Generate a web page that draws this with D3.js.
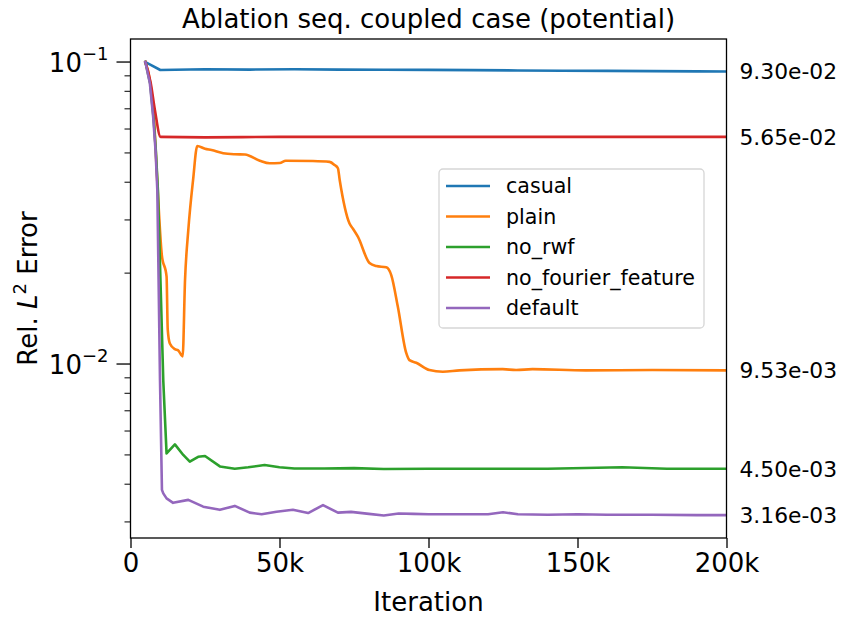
<!DOCTYPE html>
<html>
<head>
<meta charset="utf-8">
<script src="https://cdn.jsdelivr.net/npm/d3@7"></script>
<style>
  html, body { margin: 0; padding: 0; background: #fff; }
  svg text { font-family: "DejaVu Sans", sans-serif; fill: #000; }
</style>
</head>
<body>
<svg id="chart" width="842" height="618"></svg>
<script>
// ---------- data ----------
const seriesNames = ["casual", "plain", "no_rwf", "no_fourier_feature", "default"];
const seriesColors = ["#1f77b4", "#ff7f0e", "#2ca02c", "#d62728", "#9467bd"];

const iterCasual = [5000, 10000, 25000, 40000, 55000, 70000, 85000, 100000, 115000, 130000, 145000, 160000, 175000, 190000, 200000];
const errCasual  = [0.1, 0.0941, 0.0947, 0.0944, 0.0947, 0.0944, 0.0943, 0.0942, 0.0940, 0.0938, 0.0936, 0.0935, 0.0933, 0.0931, 0.0930];

const iterPlain = [5000, 6600, 7800, 9000, 10500, 12100, 12500, 13200, 14900, 16000, 17500, 18300, 19400, 21000, 22400, 25000, 27200, 31100, 35000, 38400, 43400, 46700, 50100, 52100, 61200, 66800, 68500, 69600, 70200, 73500, 74600, 76300, 80200, 82500, 85800, 87500, 89700, 92500, 93600, 95900, 100300, 104800, 110400, 124900, 129400, 134900, 152800, 175100, 200000];
const errPlain  = [0.1, 0.086, 0.067, 0.040, 0.023, 0.0195, 0.0130, 0.0117, 0.0112, 0.0111, 0.0106, 0.0190, 0.0278, 0.0407, 0.0527, 0.0516, 0.0511, 0.0499, 0.0495, 0.0494, 0.0471, 0.0462, 0.0463, 0.0471, 0.0470, 0.0467, 0.0456, 0.0445, 0.0407, 0.0292, 0.0281, 0.0264, 0.0216, 0.0211, 0.0209, 0.0197, 0.0155, 0.0109, 0.0103, 0.0101, 0.00955, 0.00943, 0.00953, 0.00962, 0.00955, 0.00962, 0.00953, 0.00955, 0.00953];

const iterNoRwf = [5000, 6600, 7700, 8500, 9200, 11000, 12100, 14900, 17700, 19900, 22700, 25000, 30000, 35000, 39500, 45000, 50000, 55000, 65000, 75000, 85000, 100000, 120000, 140000, 165000, 180000, 200000];
const errNoRwf  = [0.1, 0.085, 0.066, 0.051, 0.0377, 0.0088, 0.00506, 0.00542, 0.0050, 0.00475, 0.00493, 0.00496, 0.00458, 0.00450, 0.00455, 0.00463, 0.00455, 0.00451, 0.00451, 0.00452, 0.00449, 0.00450, 0.00450, 0.00450, 0.00455, 0.00450, 0.00450];

const iterNoFourier = [5000, 6800, 8200, 10100, 25000, 50000, 100000, 150000, 200000];
const errNoFourier  = [0.1, 0.085, 0.0693, 0.0565, 0.0563, 0.0565, 0.0565, 0.0565, 0.0565];

const iterDefault = [5000, 6500, 7600, 8400, 9000, 9900, 10550, 11000, 12100, 14300, 19400, 24400, 30000, 35000, 40000, 44000, 49000, 54500, 59600, 64600, 69600, 74000, 80000, 85000, 90000, 95000, 100000, 110000, 120000, 125000, 130000, 140000, 150000, 160000, 175000, 190000, 200000];
const errDefault  = [0.1, 0.085, 0.0659, 0.0511, 0.0377, 0.00885, 0.00383, 0.00373, 0.00359, 0.00347, 0.00355, 0.00337, 0.00329, 0.00339, 0.00322, 0.00318, 0.00324, 0.00329, 0.00321, 0.00341, 0.00322, 0.00324, 0.00319, 0.00315, 0.00320, 0.00319, 0.00318, 0.00318, 0.00318, 0.00323, 0.00318, 0.00317, 0.00318, 0.00317, 0.00317, 0.00316, 0.00316];

const finalLabels = ["9.30e-02", "9.53e-03", "4.50e-03", "5.65e-02", "3.16e-03"];
const finalValues = [0.0930, 0.00953, 0.00450, 0.0565, 0.00316];

const xTickValues = [0, 50000, 100000, 150000, 200000];
const xTickLabels = ["0", "50k", "100k", "150k", "200k"];
const yMajorTicks = [0.1, 0.01];
const yMajorExp = ["−1", "−2"];
const yMinorTicks = [0.003, 0.004, 0.005, 0.006, 0.007, 0.008, 0.009, 0.02, 0.03, 0.04, 0.05, 0.06, 0.07, 0.08, 0.09];

const titleText = "Ablation seq. coupled case (potential)";
const xLabelText = "Iteration";

// ---------- layout ----------
const L = 130.5, R = 726.5, T = 39, B = 538;
const svg = d3.select("#chart");

const x = d3.scaleLinear().domain([0, 200000]).range([L, R]);
const y = d3.scaleLog().domain([0.002654, 0.1192]).range([B, T]);

const allIters = [iterCasual, iterPlain, iterNoRwf, iterNoFourier, iterDefault];
const allErrs  = [errCasual, errPlain, errNoRwf, errNoFourier, errDefault];
const smoothCurve = [false, true, false, true, false];

svg.append("clipPath").attr("id", "clip").append("rect")
  .attr("x", L).attr("y", T).attr("width", R - L).attr("height", B - T);

const lineLinear = d3.line().x(d => x(d[0])).y(d => y(d[1]));
const lineSmooth = d3.line().x(d => x(d[0])).y(d => y(d[1])).curve(d3.curveMonotoneX);
const gLines = svg.append("g").attr("clip-path", "url(#clip)");
allIters.forEach((it, i) => {
  const pts = it.map((v, j) => [v, allErrs[i][j]]);
  gLines.append("path")
    .datum(pts)
    .attr("d", smoothCurve[i] ? lineSmooth : lineLinear)
    .attr("fill", "none")
    .attr("stroke", seriesColors[i])
    .attr("stroke-width", 2.6)
    .attr("stroke-linejoin", "round")
    .attr("stroke-linecap", "square");
});

// x axis
const xAxis = d3.axisBottom(x).tickValues(xTickValues)
  .tickFormat((d, i) => xTickLabels[i]).tickSize(10).tickPadding(6);
const gx = svg.append("g").attr("transform", `translate(0,${B})`).call(xAxis);
gx.select(".domain").remove();
gx.selectAll(".tick line").attr("stroke", "#000").attr("stroke-width", 1.3);
gx.selectAll(".tick text").attr("font-size", 26).attr("font-family", "DejaVu Sans");

// y axis major
const gy = svg.append("g");
yMajorTicks.forEach((v, i) => {
  gy.append("line").attr("x1", L - 14).attr("x2", L).attr("y1", y(v)).attr("y2", y(v))
    .attr("stroke", "#000").attr("stroke-width", 1.3);
  const t = gy.append("text").attr("x", L - 22).attr("y", y(v) + 9.7)
    .attr("text-anchor", "end").attr("font-size", 26);
  t.append("tspan").text("10");
  t.append("tspan").attr("dy", -12).attr("font-size", 18).text(yMajorExp[i]);
});
yMinorTicks.forEach(v => {
  gy.append("line").attr("x1", L - 6).attr("x2", L).attr("y1", y(v)).attr("y2", y(v))
    .attr("stroke", "#000").attr("stroke-width", 1.0);
});

// right-side final value labels
finalValues.forEach((v, i) => {
  svg.append("text").attr("x", R + 13).attr("y", y(v)).attr("dy", "0.36em")
    .attr("font-size", 21.8).text(finalLabels[i]);
});

// spines
svg.append("rect").attr("x", L).attr("y", T).attr("width", R - L).attr("height", B - T)
  .attr("fill", "none").attr("stroke", "#000").attr("stroke-width", 1.3);

// title & labels
svg.append("text").attr("x", (L + R) / 2).attr("y", 28).attr("text-anchor", "middle")
  .attr("font-size", 26).text(titleText);
svg.append("text").attr("x", (L + R) / 2).attr("y", 611).attr("text-anchor", "middle")
  .attr("font-size", 26).text(xLabelText);
const yl = svg.append("text").attr("transform", `translate(37,${(T + B) / 2}) rotate(-90)`)
  .attr("text-anchor", "middle").attr("font-size", 26);
yl.append("tspan").text("Rel. ");
yl.append("tspan").attr("font-style", "italic").text("L");
yl.append("tspan").attr("dy", -11).attr("font-size", 18).text("2");
yl.append("tspan").attr("dy", 11).text(" Error");

// legend
const lg = svg.append("g");
lg.append("rect").attr("x", 439).attr("y", 169).attr("width", 265).attr("height", 159)
  .attr("rx", 4).attr("fill", "#fff").attr("fill-opacity", 0.8)
  .attr("stroke", "#d6d6d6").attr("stroke-width", 1.3);
seriesNames.forEach((n, i) => {
  const yy = 186 + i * 30.5;
  lg.append("line").attr("x1", 446).attr("x2", 490).attr("y1", yy).attr("y2", yy)
    .attr("stroke", seriesColors[i]).attr("stroke-width", 2.6);
  lg.append("text").attr("x", 506).attr("y", yy).attr("dy", "0.36em")
    .attr("font-size", 20.6).text(n);
});
</script>
</body>
</html>
